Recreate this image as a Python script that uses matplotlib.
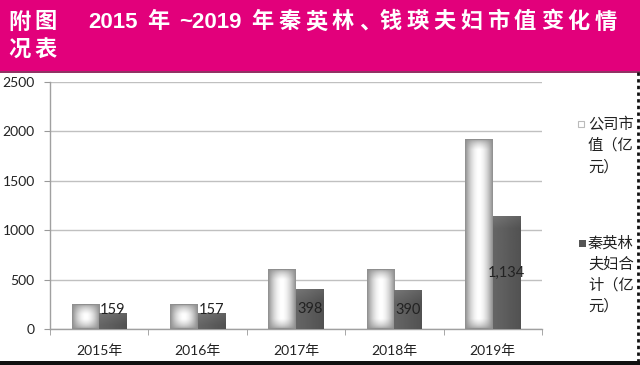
import numpy as np
import matplotlib
matplotlib.use("Agg")
import matplotlib.pyplot as plt
from matplotlib.patches import Rectangle
from matplotlib.lines import Line2D
from matplotlib import font_manager

plt.rcParams['font.family'] = ['Lato', 'Noto Sans CJK SC', 'DejaVu Sans']

# ---- data ----
categories = ["2015年", "2016年", "2017年", "2018年", "2019年"]
market_value = [250, 250, 605, 600, 1915]          # 公司市值（亿元）
couple_total = [159, 157, 398, 390, 1134]          # 秦英林夫妇合计（亿元）
couple_labels = ["159", "157", "398", "390", "1,134"]
yticks = [0, 500, 1000, 1500, 2000, 2500]
legend_light = ["公司市", "值（亿", "元）"]
legend_dark = ["秦英林", "夫妇合", "计（亿", "元）"]
title_left = ["附图", "况表"]
title_main = "2015 年 ~2019 年秦英林、钱瑛夫妇市值变化情"

W, H = 640, 365
fig = plt.figure(figsize=(W / 100, H / 100), dpi=100)
fig.patch.set_facecolor("white")

def fx(px):
    return px / W

def fy(py):
    return 1 - py / H

# header band
fig.patches.append(Rectangle((0, fy(71)), 1, 71 / H, transform=fig.transFigure,
                             facecolor="#E2007B", edgecolor="none", zorder=0))
fig.lines.append(Line2D([0, 1], [fy(71.5), fy(71.5)], transform=fig.transFigure,
                        color="#7a0a45", lw=1.2))
# bottom black bar and right dotted border
fig.patches.append(Rectangle((0, 0), 1, 4 / H, transform=fig.transFigure,
                             facecolor="#111111", edgecolor="none"))
fig.lines.append(Line2D([fx(637.5), fx(637.5)], [fy(72), fy(361)], transform=fig.transFigure,
                        color="#111111", lw=2, linestyle=(0, (1.2, 1.2))))

renderer = fig.canvas.get_renderer()

installed = {f.name for f in font_manager.fontManager.ttflist}
narrow = "Liberation Sans Narrow" if "Liberation Sans Narrow" in installed else "Liberation Sans"

def tokenize(s):
    toks, buf = [], ""
    for ch in s:
        if ord(ch) < 128 and ch != " ":
            buf += ch
        else:
            if buf:
                toks.append(buf)
                buf = ""
            toks.append(ch)
    if buf:
        toks.append(buf)
    return toks

def spaced_text(x0, yc, s, gap, size):
    x = x0
    for tok in tokenize(s):
        if tok == " ":
            x += 0.5 + gap
            continue
        if ord(tok[0]) < 128:
            fam = [narrow, "DejaVu Sans"]
            yy = yc + 0.5
        else:
            fam = ["Noto Sans CJK SC", "DejaVu Sans"]
            yy = yc
        t = fig.text(fx(x), fy(yy), tok, va="center", ha="left", color="white",
                     fontsize=size, fontweight="bold", family=fam)
        w = t.get_window_extent(renderer=renderer).width
        if tok == "、":
            w -= 6
        x += w + gap
    return x

spaced_text(8, 22, title_left[0], 4, 16)
spaced_text(8, 49, title_left[1], 4, 16)
spaced_text(88, 22, title_main, 4.6, 16)

# axes
ax = fig.add_axes([fx(50), fy(329), fx(542) - fx(50), (329 - 82) / H])
ax.set_facecolor("white")
ymax = 2500
ax_h_px = 247.0
bw = 0.28

def light_img(v):
    hpx = max(v / ymax * ax_h_px, 2)
    nx, ny = 40, max(int(hpx), 4)
    xs = np.linspace(0, 1, nx)
    ys = np.linspace(0, hpx, ny)
    hx = 1 - np.abs(2 * xs - 1) ** 1.8
    d = np.minimum(ys, hpx - ys)
    hy = np.clip(d / 10.0, 0, 1) ** 0.5
    img = 0.56 + 0.44 * np.outer(hy, hx)
    return img

def dark_img(v):
    hpx = max(v / ymax * ax_h_px, 2)
    nx, ny = 30, max(int(hpx), 4)
    xs = np.linspace(0, 1, nx)
    ys = np.linspace(0, hpx, ny)
    base = 0.40 - 0.08 * xs
    d = hpx - ys
    top = np.clip(1 - d / 12.0, 0, 1) * 0.06
    img = np.clip(base[None, :] + top[:, None], 0, 1)
    return img

for i, (mv, ct) in enumerate(zip(market_value, couple_total)):
    ax.imshow(light_img(mv), extent=(i - bw, i, 0, mv), origin="lower", cmap="gray",
              vmin=0, vmax=1, aspect="auto", interpolation="bilinear", zorder=3)
    ax.imshow(dark_img(ct), extent=(i, i + bw, 0, ct), origin="lower", cmap="gray",
              vmin=0, vmax=1, aspect="auto", interpolation="bilinear", zorder=3)
    ax.text(i + bw / 2, max(ct / 2, 195), couple_labels[i], ha="center", va="center",
            fontsize=10.5, color="#222222", zorder=5)

ax.set_xlim(-0.5, len(categories) - 0.5)
ax.set_ylim(0, ymax)
ax.set_yticks(yticks)
ax.set_yticklabels([str(t) for t in yticks], fontsize=10, color="#222222")
ax.set_xticks(range(len(categories)))
ax.set_xticklabels(categories, fontsize=10, color="#222222")
ax.set_xticks(np.arange(-0.5, len(categories)), minor=True)
ax.tick_params(axis="x", which="major", length=0, pad=11)
ax.tick_params(axis="x", which="minor", length=4, color="#999999", direction="out")
ax.tick_params(axis="y", length=4, color="#999999", pad=7)
ax.grid(axis="y", color="#c0c0c0", lw=1, zorder=0)
ax.set_axisbelow(True)
for s in ["top", "right"]:
    ax.spines[s].set_visible(False)
for s in ["left", "bottom"]:
    ax.spines[s].set_color("#a0a0a0")
    ax.spines[s].set_linewidth(1)

# legend
fig.patches.append(Rectangle((fx(578), fy(127)), 6 / W, 6 / H, transform=fig.transFigure,
                             facecolor="white", edgecolor="#bbbbbb", lw=0.8))
fig.patches.append(Rectangle((fx(579), fy(247)), 7 / W, 7 / H, transform=fig.transFigure,
                             facecolor="#555555", edgecolor="none"))
for k, t in enumerate(legend_light):
    fig.text(fx(588), fy(124 + 21.5 * k), t, fontsize=11, color="#222222",
             family=["Noto Sans CJK SC"], va="center", ha="left")
for k, t in enumerate(legend_dark):
    fig.text(fx(588), fy(243 + 21 * k), t, fontsize=11, color="#222222",
             family=["Noto Sans CJK SC"], va="center", ha="left")

fig.savefig("out.png", dpi=100)
